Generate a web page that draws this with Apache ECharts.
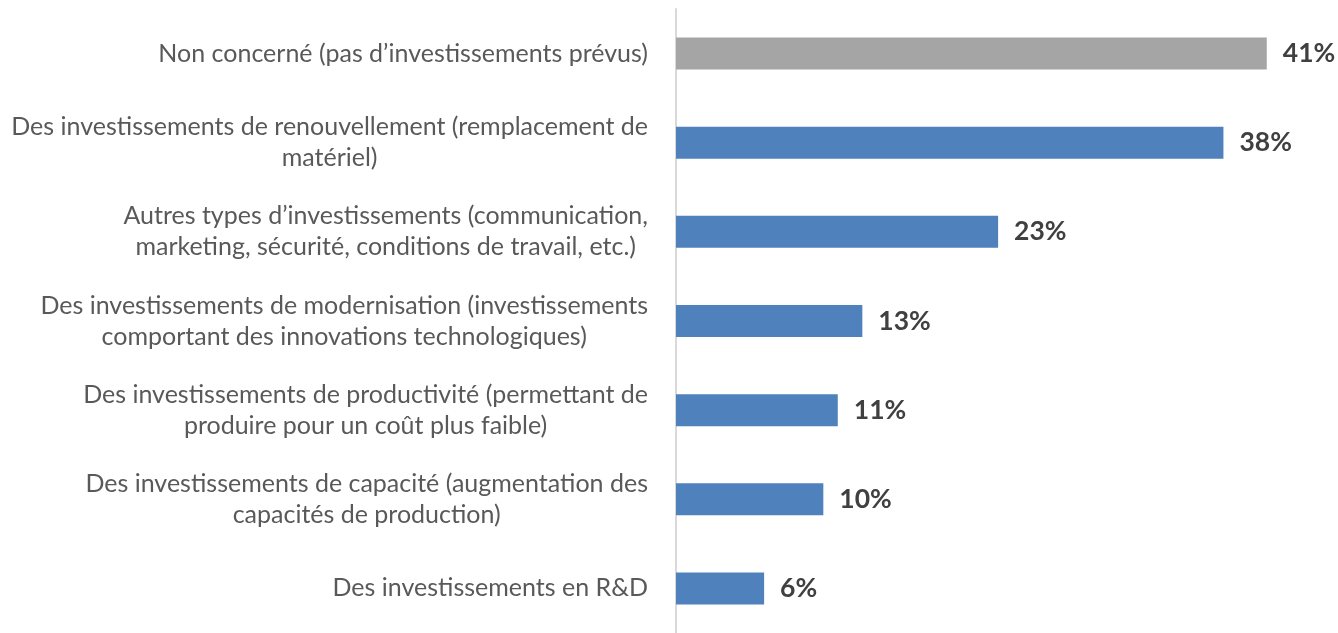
<!DOCTYPE html>
<html>
<head>
<meta charset="utf-8">
<script src="https://cdn.jsdelivr.net/npm/echarts@6/dist/echarts.min.js"></script>
<style>
html,body{margin:0;padding:0;background:#fff;}
#chart{width:1338px;height:633px;}
</style>
</head>
<body>
<div id="chart"></div>
<script>
const categories = [
  "Non concerné (pas d’investissements prévus)",
  "Des investissements de renouvellement (remplacement de\nmatériel)",
  "Autres types d’investissements (communication,\nmarketing, sécurité, conditions de travail, etc.)",
  "Des investissements de modernisation (investissements\ncomportant des innovations technologiques)",
  "Des investissements de productivité (permettant de\nproduire pour un coût plus faible)",
  "Des investissements de capacité (augmentation des\ncapacités de production)",
  "Des investissements en R&D"
];
const values = [40.9, 37.9, 22.3, 12.9, 11.2, 10.2, 6.1];
const valueLabels = ["41%", "38%", "23%", "13%", "11%", "10%", "6%"];

const chart = echarts.init(document.getElementById('chart'), null, {renderer: 'canvas'});
chart.setOption({
  animation: false,
  backgroundColor: '#ffffff',
  grid: {left: 676, top: 9, width: 650, height: 625, containLabel: false},
  xAxis: {
    type: 'value', min: 0, max: 45, show: false,
    splitLine: {show: false}
  },
  yAxis: {
    type: 'category', data: categories, inverse: true,
    axisLine: {show: true, lineStyle: {color: '#D9D9D9', width: 2}},
    axisTick: {show: false},
    axisLabel: {
      margin: 28,
      align: 'right',
      formatter: function (v) {
        return v.split('\n').map(function (l) { return '{c|' + l + '}'; }).join('\n');
      },
      rich: {
        c: {align: 'center', fontFamily: 'Lato', fontSize: 25, color: '#595959', lineHeight: 31}
      }
    }
  },
  series: [{
    type: 'bar',
    data: values,
    barWidth: 32,
    itemStyle: {
      color: function (p) { return p.dataIndex === 0 ? '#A5A5A5' : '#4F81BD'; }
    },
    label: {
      show: true, position: 'right', distance: 16,
      fontFamily: 'Lato', fontWeight: 'bold', fontSize: 26.5, color: '#404040',
      formatter: function (p) { return valueLabels[p.dataIndex]; }
    }
  }]
});
</script>
</body>
</html>
